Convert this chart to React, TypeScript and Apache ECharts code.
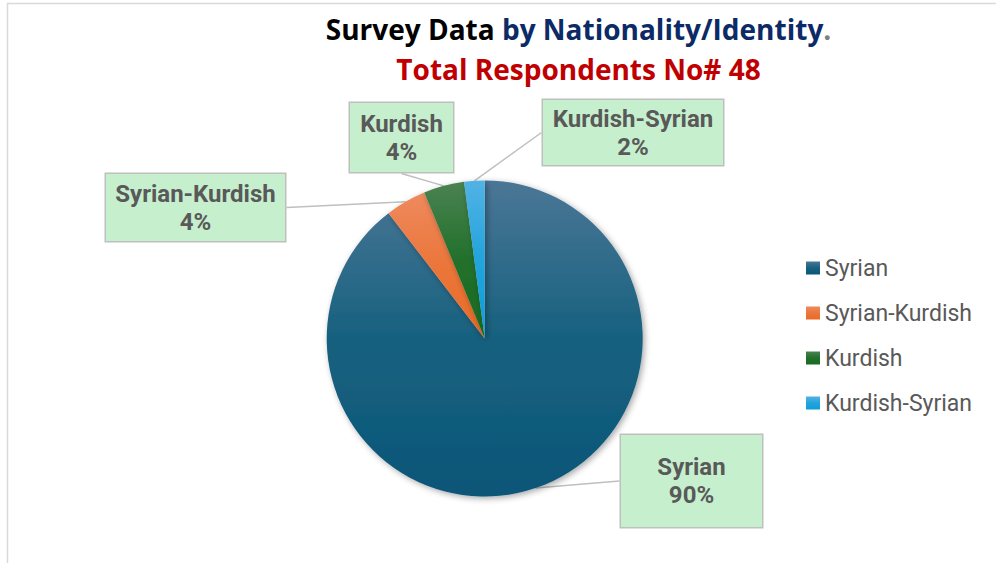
import React, { useEffect, useRef } from "react";
import * as echarts from "echarts";

const categories = ["Syrian", "Syrian-Kurdish", "Kurdish", "Kurdish-Syrian"];
const counts = [43, 2, 2, 1];
const titleLine1a = "Survey Data ";
const titleLine1b = "by Nationality/Identity";
const titleLine2 = "Total Respondents No# 48";

const gradients = [
  ["#4B7696", "#17617F", "#0B5678"],
  ["#EE8A5E", "#EB763A", "#E96A26"],
  ["#4A8251", "#22702B", "#186A22"],
  ["#52B2E5", "#22A4DC", "#0E9DD8"],
];

// label box layout: center x, center y, width, height
const labelBoxes = [
  { cx: 691.5, cy: 481, w: 141, h: 92 },
  { cx: 195.5, cy: 207.5, w: 179, h: 67 },
  { cx: 401.5, cy: 137.5, w: 103, h: 69 },
  { cx: 633, cy: 132.5, w: 180, h: 65 },
];

const FONT = "Roboto, 'Open Sans', sans-serif";
const TITLE_FONT = "'Open Sans', Roboto, sans-serif";

export default function App() {
  const ref = useRef<HTMLDivElement>(null);
  useEffect(() => {
    if (!ref.current) return;
    const chart = echarts.init(ref.current, undefined, { renderer: "svg" });
    const data = categories.map((name, i) => {
      const g = gradients[i];
      const b = labelBoxes[i];
      return {
        name,
        value: counts[i],
        itemStyle: {
          color: new echarts.graphic.LinearGradient(0, 0, 0, 1, [
            { offset: 0, color: g[0] },
            { offset: 0.5, color: g[1] },
            { offset: 1, color: g[2] },
          ]),
        },
        label: {
          width: b.w,
          padding: [(b.h - 56) / 2, 0],
        },
      };
    });
    const ts = (color: string) => ({
      color,
      fontSize: 28,
      fontWeight: "bold",
      fontFamily: TITLE_FONT,
      lineHeight: 40,
    });
    chart.setOption({
      animation: false,
      backgroundColor: "#ffffff",
      graphic: [
        {
          type: "rect",
          shape: { x: 7.5, y: 3.5, width: 1100, height: 700 },
          style: { fill: "none", stroke: "#D9D9D9", lineWidth: 1.5 },
          silent: true,
          z: -1,
        },
      ],
      title: {
        left: 578.5,
        top: 9,
        padding: 0,
        textAlign: "center",
        text: `{k|${titleLine1a}}{n|${titleLine1b}}{g|.}\n{r|${titleLine2}}`,
        textStyle: {
          fontFamily: TITLE_FONT,
          fontSize: 28,
          fontWeight: "bold",
          lineHeight: 40,
          rich: {
            k: ts("#000000"),
            n: ts("#0B2A66"),
            g: ts("#7F7F7F"),
            r: ts("#C00000"),
          },
        },
      },
      legend: {
        orient: "vertical",
        left: 806,
        top: 256,
        padding: 0,
        itemWidth: 14,
        itemHeight: 13,
        itemGap: 21,
        icon: "rect",
        data: categories,
        textStyle: {
          fontFamily: FONT,
          fontSize: 23,
          color: "#595959",
          lineHeight: 24,
        },
      },
      series: [
        {
          type: "pie",
          center: [484.7, 338.5],
          radius: 158,
          startAngle: 90,
          clockwise: true,
          avoidLabelOverlap: false,
          percentPrecision: 0,
          itemStyle: {
            shadowBlur: 6,
            shadowOffsetX: 2,
            shadowOffsetY: 2,
            shadowColor: "rgba(0,0,0,0.35)",
          },
          label: {
            show: true,
            position: "outside",
            formatter: "{b}\n{d}%",
            fontFamily: FONT,
            fontSize: 24,
            fontWeight: "bold",
            lineHeight: 28,
            color: "#595959",
            align: "center",
            backgroundColor: "#C6EFCE",
            borderColor: "#BFBFBF",
            borderWidth: 1.5,
          },
          labelLine: {
            show: true,
            length: 0,
            length2: 0,
            lineStyle: { color: "#BFBFBF", width: 1.5 },
          },
          labelLayout: (params: any) => {
            const b = labelBoxes[params.dataIndex];
            return { x: b.cx, y: b.cy, align: "center", verticalAlign: "middle" };
          },
          emphasis: { disabled: true },
          data,
        },
      ],
    });
    return () => chart.dispose();
  }, []);
  return (
    <div
      ref={ref}
      style={{ position: "absolute", left: 0, top: 0, width: 996, height: 563 }}
    />
  );
}
